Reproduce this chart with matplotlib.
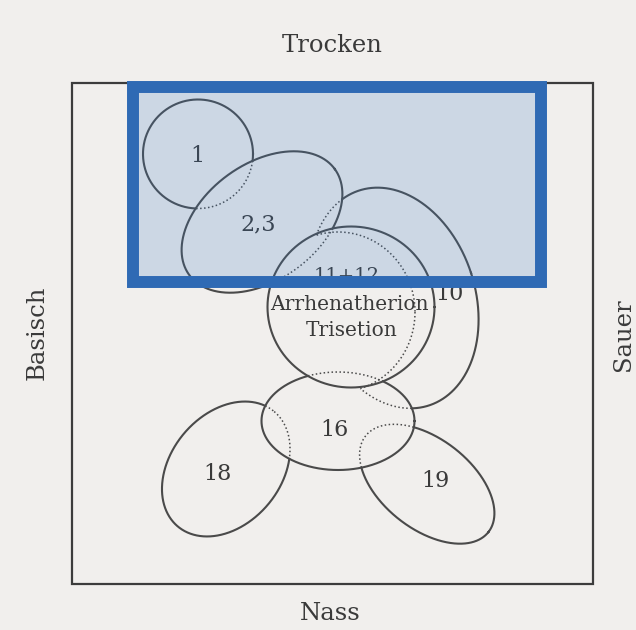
import numpy as np
import matplotlib.pyplot as plt
from matplotlib.patches import Rectangle

# Ellipsen des Ökogramms (Pixel, y nach unten), Reihenfolge = Zeichenebene von unten nach oben
namen = ['1', '10', '18', '19', '2,3', '16', '11+12']
cx = [198, 394, 226, 427, 262, 338, 351]
cy = [154, 298, 469, 484, 222, 421, 307]
breite = [110, 162, 150, 156, 180, 153, 167]
hoehe = [109, 226, 110, 90, 116, 98, 161]
winkel = [0, -18, -50, 38, -36, 0, 0]

# Ausschnitt, der die Fläche 10 zur Sichel macht
schnitt_10 = (338, 312, 154, 160, 0)

# Beschriftungen
etiketten = ['1', '2,3', '10', '16', '18', '19']
etik_x = [197, 258, 449, 334, 218, 435]
etik_y = [156, 224, 294, 430, 474, 481]

achsen_text = ['Trocken', 'Nass', 'Basisch', 'Sauer']


def ell_punkte(e, n=1440):
    x0, y0, w, h, ang = e
    t = np.linspace(0, 2 * np.pi, n)
    a = np.deg2rad(ang)
    u = w / 2 * np.cos(t)
    v = h / 2 * np.sin(t)
    return x0 + u * np.cos(a) - v * np.sin(a), y0 + u * np.sin(a) + v * np.cos(a)


def in_ell(x, y, e):
    x0, y0, w, h, ang = e
    a = np.deg2rad(ang)
    dx, dy = x - x0, y - y0
    u = dx * np.cos(a) + dy * np.sin(a)
    v = -dx * np.sin(a) + dy * np.cos(a)
    return (u / (w / 2)) ** 2 + (v / (h / 2)) ** 2 < 1


ellipsen = [(cx[i], cy[i], breite[i], hoehe[i], winkel[i]) for i in range(len(namen))]


def in_flaeche(x, y, i):
    r = in_ell(x, y, ellipsen[i])
    if namen[i] == '10':
        r = r & ~in_ell(x, y, schnitt_10)
    return r


fig = plt.figure(figsize=(6.36, 6.30), dpi=100)
fig.patch.set_facecolor('#f1efed')
ax = fig.add_axes([0, 0, 1, 1])
ax.set_xlim(0, 636)
ax.set_ylim(630, 0)
ax.axis('off')

farbe = '#4a4a4a'
tfarbe = '#3a3a3a'
schrift = 'DejaVu Serif'


def zeichne(x, y, sichtbar, verdeckt):
    ax.plot(np.where(sichtbar & ~verdeckt, x, np.nan), y, color=farbe, lw=1.5, zorder=3)
    ax.plot(np.where(sichtbar & verdeckt, x, np.nan), y, color=farbe, lw=1.1,
            ls=(0, (1, 1.6)), zorder=3)


for i in range(len(namen)):
    x, y = ell_punkte(ellipsen[i])
    verdeckt = np.zeros_like(x, dtype=bool)
    for j in range(i + 1, len(namen)):
        verdeckt |= in_flaeche(x, y, j)
    sichtbar = np.ones_like(x, dtype=bool)
    if namen[i] == '10':
        sichtbar = ~in_ell(x, y, schnitt_10)
        zeichne(x, y, sichtbar, verdeckt)
        xs, ys = ell_punkte(schnitt_10)
        vs = np.zeros_like(xs, dtype=bool)
        for j in range(i + 1, len(namen)):
            vs |= in_flaeche(xs, ys, j)
        zeichne(xs, ys, in_ell(xs, ys, ellipsen[i]), vs)
    else:
        zeichne(x, y, sichtbar, verdeckt)

# Rahmen
ax.add_patch(Rectangle((72, 83), 521, 501, fill=False, ec='#3c3c3c', lw=1.6, zorder=2))

for t, x, y in zip(etiketten, etik_x, etik_y):
    ax.text(x, y, t, ha='center', va='center', fontsize=16, family=schrift, color=tfarbe, zorder=4)

ax.text(347, 276, '11+12', ha='center', va='center', fontsize=14, family=schrift, color=tfarbe, zorder=4)
ax.text(349, 304, 'Arrhenatherion', ha='center', va='center', fontsize=14.5, family=schrift,
        color=tfarbe, zorder=4)
ax.text(352, 331, 'Trisetion', ha='center', va='center', fontsize=14.5, family=schrift,
        color=tfarbe, zorder=4)

ax.text(332, 45, achsen_text[0], ha='center', va='center', fontsize=17.5, family=schrift, color=tfarbe)
ax.text(330, 614, achsen_text[1], ha='center', va='center', fontsize=17.5, family=schrift, color=tfarbe)
ax.text(37, 333, achsen_text[2], ha='center', va='center', fontsize=17.5, family=schrift,
        color=tfarbe, rotation=90)
ax.text(624, 335, achsen_text[3], ha='center', va='center', fontsize=17.5, family=schrift,
        color=tfarbe, rotation=90)

# blaue Markierung
ax.add_patch(Rectangle((133, 87), 408, 195, fc='#3a78c0', alpha=0.2, ec='none', zorder=5))
ax.add_patch(Rectangle((133, 87), 408, 195, fill=False, ec='#2f6ab4', lw=8.6, zorder=6,
                       joinstyle='miter'))

fig.savefig('out.png', dpi=100, facecolor=fig.get_facecolor())
